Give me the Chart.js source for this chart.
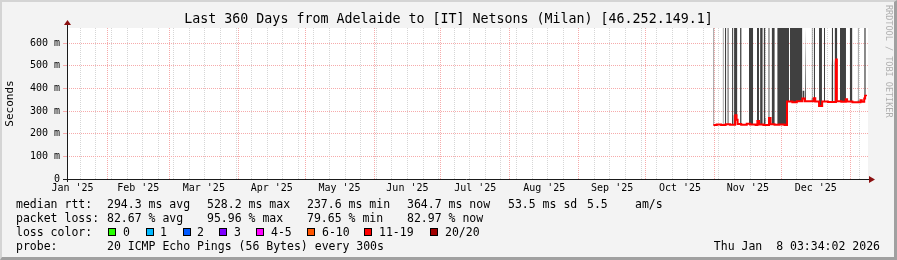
<!DOCTYPE html>
<html lang="en">
<head>
    <meta charset="UTF-8">
    <title>Last 360 Days from Adelaide to [IT] Netsons (Milan)</title>
    <style>
        body {
            margin: 0;
            padding: 0;
            background: #f3f3f3;
        }
        #wrap {
            position: relative;
            width: 897px;
            height: 260px;
            background: #f3f3f3;
            overflow: hidden;
            font-family: "DejaVu Sans Mono", monospace;
            color: #000;
        }
        #wrap canvas {
            position: absolute;
            left: 0;
            top: 0;
        }
        .txt {
            position: absolute;
            white-space: pre;
            font-size: 11.5px;
            line-height: 14px;
        }
        #title {
            position: absolute;
            left: 0;
            width: 897px;
            top: 11px;
            text-align: center;
            font-size: 13.3px;
            line-height: 16px;
            white-space: pre;
        }
        #side {
            position: absolute;
            left: 884px;
            top: 5px;
            writing-mode: vertical-rl;
            font-size: 8.5px;
            line-height: 10px;
            color: #b0b0b0;
            white-space: pre;
        }
        .box {
            position: absolute;
            width: 6px;
            height: 6px;
            border: 1px solid #000;
        }
        #frame {
            position: absolute;
            left: 0;
            top: 0;
            width: 897px;
            height: 260px;
            box-sizing: border-box;
            border-left: 2px solid #d4d4d4;
            border-top: 2px solid #d4d4d4;
            border-right: 3px solid #a0a0a0;
            border-bottom: 3px solid #a0a0a0;
            pointer-events: none;
        }
    </style>
</head>
<body>
<div id="wrap">
    <canvas id="chart" width="897" height="260"></canvas>
    <div id="title">Last 360 Days from Adelaide to [IT] Netsons (Milan) [46.252.149.1]</div>
    <div id="side">RRDTOOL / TOBI OETIKER</div>
    <div id="legend"></div>
    <div id="frame"></div>
</div>

<script src="https://cdn.jsdelivr.net/npm/chart.js"></script>
<script>
    // x axis is in days from the left edge of the graph (14 Jan 2025), 360 days shown
    const monthLabels = ["Jan '25", "Feb '25", "Mar '25", "Apr '25", "May '25", "Jun '25",
                         "Jul '25", "Aug '25", "Sep '25", "Oct '25", "Nov '25", "Dec '25"];
    const monthStart = [-13, 18, 46, 77, 107, 138, 168, 199, 230, 260, 291, 321, 352];
    const firstMonday = 6; // Mon 20 Jan 2025

    // median rtt (ms), each value holds until the next day mark
    const rttDay = [290.5, 292.0, 294.0, 296.0, 298.0, 300.3, 300.9, 301.4, 303.0, 305.5,
                    307.0, 309.5, 310.3, 311.0, 313.0, 315.5, 316.2, 318.0, 320.0, 322.5,
                    323.6, 326.0, 328.0, 330.5, 331.6, 335.6, 336.3, 338.0, 339.4, 342.0,
                    345.6, 346.0, 348.0, 350.0, 350.6, 353.0, 356.6, 357.2, 358.3, 358.7, 359.1];
    const rttMs = [238, 241, 239, 242, 240, 282, 262, 243, 240, 244,
                   241, 239, 256, 241, 239, 270, 242, 240, 241, 239,
                   342, 339, 343, 356, 343, 357, 342, 322, 342, 340,
                   528, 343, 341, 352, 342, 339, 348, 341, 356, 368, 365];

    // smoke (ping spread) runs: from day, to day, top (ms)
    const smokeFrom = [290.5, 294.7, 295.7, 296.8, 298.9, 299.8, 302.5, 306.5, 310.1, 311.5,
                       313.1, 315.2, 316.7, 319.2, 324.9, 330.5, 331.7, 334.7, 335.6, 338.0,
                       340.2, 343.7, 345.0, 347.4, 351.8, 355.4, 358.3];
    const smokeTo = [290.9, 295.1, 296.3, 297.4, 299.5, 301.3, 303.2, 308.4, 311.0, 312.7,
                     313.9, 315.8, 318.1, 324.5, 330.5, 331.5, 332.1, 335.1, 336.2, 339.3,
                     340.7, 344.3, 346.2, 350.1, 353.0, 355.8, 359.0];
    const smokeTop = [667, 667, 667, 667, 667, 667, 667, 667, 667, 667,
                      667, 667, 667, 667, 667, 390, 667, 667, 667, 667,
                      667, 667, 667, 667, 667, 667, 667];

    const lossLabels = ['0', '1', '2', '3', '4-5', '6-10', '11-19', '20/20'];
    const lossColors = ['#26ff00', '#00b8ff', '#0059ff', '#7e00ff', '#ff00ff', '#ff5500', '#ff0000', '#a10000'];

    const X_MAX = 360;
    const Y_MAX = 667;

    const MAJOR = '#f6abab';
    const MINOR = '#d6d6d6';

    // x ticks: weekly minor lines, month boundary major lines, labels mid month
    const xTickMap = {};
    for (let d = firstMonday; d <= X_MAX; d += 7) {
        xTickMap[d] = { value: d, grid: MINOR, label: '' };
    }
    monthStart.forEach((d, i) => {
        if (d > 0 && d < X_MAX) {
            xTickMap[d] = Object.assign(xTickMap[d] || { value: d, label: '' }, { grid: MAJOR });
        }
        if (i < monthLabels.length) {
            const mid = (d + monthStart[i + 1]) / 2;
            if (mid > 0 && mid < X_MAX) {
                xTickMap[mid] = Object.assign(xTickMap[mid] || { value: mid, grid: 'rgba(0,0,0,0)' }, { label: monthLabels[i] });
            }
        }
    });
    const xTicks = Object.values(xTickMap).sort((a, b) => a.value - b.value);
    const xTickAt = v => xTickMap[v] || { grid: 'rgba(0,0,0,0)', label: '' };

    const yTicks = [];
    for (let v = 0; v < Y_MAX; v += 50) yTicks.push(v);

    const medianData = rttDay.map((d, i) => ({ x: d, y: rttMs[i] }));
    const smokeData = [];
    smokeFrom.forEach((s, i) => {
        smokeData.push({ x: s, y: smokeTop[i] });
        smokeData.push({ x: smokeTo[i], y: smokeTop[i] });
        smokeData.push({ x: smokeTo[i], y: null });
    });

    // white canvas, axis lines and arrows like rrdtool
    const rrdFrame = {
        id: 'rrdFrame',
        beforeDraw(chart) {
            const { ctx, chartArea: a } = chart;
            ctx.save();
            ctx.fillStyle = '#ffffff';
            ctx.fillRect(a.left, a.top, a.right - a.left, a.bottom - a.top);
            ctx.restore();
        },
        afterDraw(chart) {
            const { ctx, chartArea: a } = chart;
            const y0 = Math.round(a.bottom) + 0.5;
            const x0 = Math.round(a.left) + 0.5;
            ctx.save();
            ctx.strokeStyle = '#1a1a1a';
            ctx.lineWidth = 1;
            ctx.beginPath();
            ctx.moveTo(a.left - 4, y0);
            ctx.lineTo(a.right + 2, y0);
            ctx.moveTo(x0, a.bottom + 3);
            ctx.lineTo(x0, a.top - 4);
            ctx.stroke();
            ctx.fillStyle = '#8b1010';
            ctx.beginPath();
            ctx.moveTo(a.right + 1, y0 - 3.5);
            ctx.lineTo(a.right + 7, y0);
            ctx.lineTo(a.right + 1, y0 + 3.5);
            ctx.closePath();
            ctx.fill();
            ctx.beginPath();
            ctx.moveTo(x0 - 3.5, a.top - 3);
            ctx.lineTo(x0, a.top - 8);
            ctx.lineTo(x0 + 3.5, a.top - 3);
            ctx.closePath();
            ctx.fill();
            ctx.restore();
        }
    };

    Chart.defaults.font.family = '"DejaVu Sans Mono", monospace';
    Chart.defaults.color = '#000';

    new Chart(document.getElementById('chart').getContext('2d'), {
        type: 'line',
        data: {
            datasets: [
                {
                    label: 'median rtt',
                    data: medianData,
                    stepped: true,
                    borderColor: '#ff0000',
                    borderWidth: 2,
                    pointRadius: 0,
                    fill: false
                },
                {
                    label: 'smoke',
                    data: smokeData,
                    borderWidth: 0,
                    borderColor: 'rgba(0,0,0,0)',
                    backgroundColor: '#404040',
                    pointRadius: 0,
                    spanGaps: false,
                    fill: '-1'
                }
            ]
        },
        options: {
            responsive: false,
            animation: false,
            devicePixelRatio: 1,
            layout: { padding: { top: 28, right: 29, left: 0, bottom: 0 } },
            plugins: {
                legend: { display: false },
                title: { display: false },
                tooltip: { enabled: false }
            },
            scales: {
                x: {
                    type: 'linear',
                    min: 0,
                    max: X_MAX,
                    afterBuildTicks: s => { s.ticks = xTicks.map(t => ({ value: t.value })); },
                    afterFit: s => { s.height = 81; },
                    ticks: {
                        autoSkip: false,
                        maxRotation: 0,
                        minRotation: 0,
                        padding: 3,
                        font: { size: 10 },
                        callback: v => xTickAt(v).label
                    },
                    grid: {
                        drawTicks: false,
                        lineWidth: 1,
                        color: c => c.tick ? xTickAt(c.tick.value).grid : 'rgba(0,0,0,0)'
                    },
                    border: { display: false, dash: [1, 1] }
                },
                y: {
                    type: 'linear',
                    min: 0,
                    max: Y_MAX,
                    afterBuildTicks: s => { s.ticks = yTicks.map(v => ({ value: v })); },
                    afterFit: s => { s.width = 67; },
                    title: {
                        display: true,
                        text: 'Seconds',
                        font: { size: 11 },
                        padding: { top: 4, bottom: 0 }
                    },
                    ticks: {
                        padding: 3,
                        font: { size: 10 },
                        callback: v => v % 100 === 0 ? (v === 0 ? '0' : v + ' m') : ''
                    },
                    grid: {
                        drawTicks: true,
                        tickLength: 4,
                        lineWidth: 1,
                        color: c => c.tick && c.tick.value % 100 === 0 ? MAJOR : MINOR
                    },
                    border: { display: false, dash: [1, 1] }
                }
            }
        },
        plugins: [rrdFrame]
    });

    // text legend below the graph
    const legend = document.getElementById('legend');
    function put(text, left, top) {
        const el = document.createElement('div');
        el.className = 'txt';
        el.textContent = text;
        el.style.left = left + 'px';
        el.style.top = top + 'px';
        legend.appendChild(el);
        return el;
    }
    const rowTop = [197, 211, 225, 239];
    put('median rtt:', 16, rowTop[0]);
    put('294.3 ms avg', 107, rowTop[0]);
    put('528.2 ms max', 207, rowTop[0]);
    put('237.6 ms min', 307, rowTop[0]);
    put('364.7 ms now', 407, rowTop[0]);
    put('53.5 ms sd', 508, rowTop[0]);
    put('5.5', 587, rowTop[0]);
    put('am/s', 635, rowTop[0]);

    put('packet loss:', 16, rowTop[1]);
    put('82.67 % avg', 107, rowTop[1]);
    put('95.96 % max', 207, rowTop[1]);
    put('79.65 % min', 307, rowTop[1]);
    put('82.97 % now', 407, rowTop[1]);

    put('loss color:', 16, rowTop[2]);
    const boxLeft = [108, 146, 183, 219, 256, 307, 364, 430];
    const boxText = [123, 160, 197, 234, 271, 322, 379, 445];
    lossLabels.forEach((lab, i) => {
        const b = document.createElement('div');
        b.className = 'box';
        b.style.left = boxLeft[i] + 'px';
        b.style.top = '228px';
        b.style.background = lossColors[i];
        legend.appendChild(b);
        put(lab, boxText[i], rowTop[2]);
    });

    put('probe:', 16, rowTop[3]);
    put('20 ICMP Echo Pings (56 Bytes) every 300s', 107, rowTop[3]);
    const stamp = put('Thu Jan  8 03:34:02 2026', 0, rowTop[3]);
    stamp.style.left = '';
    stamp.style.right = '17px';
</script>
</body>
</html>
